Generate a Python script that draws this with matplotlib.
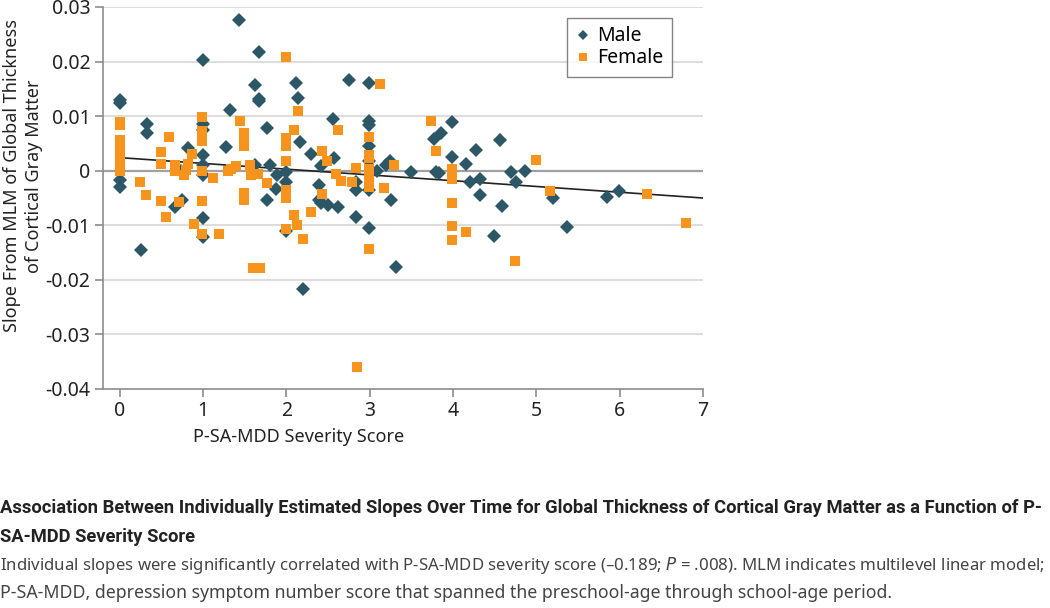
import matplotlib.pyplot as plt
import numpy as np

# Male / Female points
male_x = [0, 0, 0, 0, 0.25, 0.33, 0.33, 0.66, 0.74, 0.75, 0.82,
          1.0, 1.0, 1.0, 1.0, 1.0, 1.0, 1.0, 1.0, 1.28, 1.32, 1.43,
          1.62, 1.62, 1.67, 1.67, 1.67, 1.77, 1.77, 1.80, 1.89, 1.88,
          2.0, 2.0, 2.0, 2.12, 2.14, 2.16, 2.29, 2.42, 2.39, 2.39, 2.42,
          2.50, 2.62, 2.56, 2.57, 2.75, 2.83, 2.83, 2.83,
          2.99, 2.99, 2.99, 2.99, 2.99, 2.99, 2.99, 2.2, 3.09, 3.2, 3.24,
          3.25, 3.32, 3.5, 3.77, 3.86, 3.99, 3.99, 3.8, 3.83, 4.16, 4.28,
          4.2, 4.32, 4.32, 4.49, 4.56, 4.59, 4.7, 4.75, 4.86, 5.2, 5.37,
          5.85, 5.99]
male_y = [0.0130, 0.0125, -0.0017, -0.0029, -0.0145, 0.0086, 0.0070,
          -0.0066, 0.0000, -0.0053, 0.0042,
          0.0202, 0.0086, 0.0075, 0.0028, 0.0010, -0.0007, -0.0086, -0.0121,
          0.0043, 0.0112, 0.0276,
          0.0157, 0.0010, 0.0218, 0.0132, 0.0127, 0.0078, -0.0053, 0.0010,
          -0.0007, -0.0033,
          -0.0003, -0.0021, -0.0111, 0.0161, 0.0133, 0.0053, 0.0031, 0.0008,
          -0.0026, -0.0053, -0.0059,
          -0.0062, -0.0067, 0.0095, 0.0023, 0.0166, -0.0021, -0.0036, -0.0084,
          0.0160, 0.0092, 0.0083, 0.0045, 0.0018, -0.0035, -0.0105, -0.0217,
          -0.0001, 0.0010, 0.0017,
          -0.0054, -0.0176, -0.0003, 0.0059, 0.0069, 0.0090, 0.0026, -0.0002,
          -0.0004, 0.0013, 0.0038,
          -0.0021, -0.0015, -0.0044, -0.0119, 0.0057, -0.0065, -0.0003,
          -0.0021, 0.0000, -0.0050, -0.0104,
          -0.0048, -0.0038]

female_x = [0, 0, 0, 0, 0, 0, 0, 0, 0.24, 0.32, 0.49, 0.49, 0.49, 0.56,
            0.59, 0.66, 0.66, 0.71, 0.77, 0.79, 0.82, 0.87, 0.89,
            0.99, 0.99, 0.99, 0.99, 0.99, 0.99, 1.12, 1.19, 1.30, 1.33, 1.39,
            1.44, 1.49, 1.49, 1.49, 1.49, 1.49, 1.56, 1.58, 1.60, 1.66, 1.68,
            1.77, 1.99, 1.99, 1.99, 1.99, 1.99, 1.99, 1.99, 2.09, 2.09, 2.13,
            2.14, 2.20, 2.29, 2.43, 2.43, 2.49, 2.59, 2.62, 2.65, 2.79, 2.83,
            2.85, 2.99, 2.99, 2.99, 2.99, 2.99, 2.99, 2.99, 3.12, 3.17, 3.29,
            3.74, 3.79, 3.99, 3.99, 3.99, 3.99, 3.99, 4.16, 4.74, 5.00, 5.16,
            6.33, 6.79]
female_y = [0.0089, 0.0083, 0.0057, 0.0045, 0.0033, 0.0020, 0.0010, -0.0001,
            -0.0021, -0.0045, 0.0034, 0.0013, -0.0055, -0.0085,
            0.0061, 0.0010, 0.0000, -0.0057, -0.0007, 0.0002, 0.0012, 0.0031,
            -0.0097,
            0.0099, 0.0072, 0.0054, -0.0001, -0.0056, -0.0116, -0.0013,
            -0.0116, -0.0001, 0.0003, 0.0008,
            0.0092, 0.0069, 0.0060, 0.0046, -0.0041, -0.0053, 0.0010, -0.0007,
            -0.0179, -0.0006, -0.0179,
            -0.0023, 0.0209, 0.0060, 0.0045, 0.0018, -0.0035, -0.0050, -0.0106,
            0.0075, -0.0081, -0.0100,
            0.0109, -0.0125, -0.0076, 0.0036, -0.0042, 0.0017, -0.0006, 0.0074,
            -0.0018, -0.0021, 0.0005,
            -0.0359, 0.0062, 0.0029, 0.0023, 0.0004, -0.0013, -0.0030, -0.0144,
            0.0158, -0.0032, 0.0011,
            0.0092, 0.0036, 0.0003, -0.0015, -0.0060, -0.0102, -0.0127,
            -0.0113, -0.0166, 0.0020, -0.0037,
            -0.0042, -0.0096]

# fitted line endpoints
fit_x = [0, 7]
fit_y = [0.0024, -0.0050]

caption_title = ['Association Between Individually Estimated Slopes Over Time for '
                 'Global Thickness of Cortical Gray Matter as a Function of P-',
                 'SA-MDD Severity Score']
caption_body = ['Individual slopes were significantly correlated with P-SA-MDD '
                'severity score (\u20130.189; $\\it{P}$ = .008). MLM indicates '
                'multilevel linear model;',
                'P-SA-MDD, depression symptom number score that spanned the '
                'preschool-age through school-age period.']

male_col = '#2b5766'
female_col = '#f7941d'
grey = '#8c8c8c'

plt.rcParams['font.family'] = ['Noto Sans', 'DejaVu Sans']

fig = plt.figure(figsize=(10.5, 6.08), dpi=100)
ax = fig.add_axes([103/1050, 1-389/608, 600/1050, 382/608])

for yv in np.arange(-0.03, 0.031, 0.01):
    if abs(yv) < 1e-9:
        ax.axhline(0, color='#a0a0a0', lw=1.6, zorder=1)
    else:
        ax.axhline(yv, color='#dddddd', lw=1.4, zorder=1)

ax.plot(fit_x, fit_y, color='#222222', lw=1.2, zorder=2)
ax.plot(male_x, male_y, 'D', color=male_col, ms=7.2, mew=0, label='Male', zorder=3)
ax.plot(female_x, female_y, 's', color=female_col, ms=7, mew=0, label='Female', zorder=3)

ax.set_xlim(-0.2, 7)
ax.set_ylim(-0.04, 0.03)
ax.set_xticks(range(8))
ax.set_yticks([-0.04, -0.03, -0.02, -0.01, 0, 0.01, 0.02, 0.03])
ax.set_yticklabels(['-0.04', '-0.03', '-0.02', '-0.01', '0', '0.01', '0.02', '0.03'])
for s in ['top', 'right']:
    ax.spines[s].set_visible(False)
for s in ['left', 'bottom']:
    ax.spines[s].set_color(grey)
    ax.spines[s].set_linewidth(1.2)
ax.tick_params(direction='out', length=6, color=grey, width=1.2,
               labelsize=14, labelcolor='#222222', pad=3)

leg = ax.legend(loc='upper left', bbox_to_anchor=(0.773, 0.972), fontsize=14,
                frameon=True, fancybox=False, edgecolor='#666666',
                handletextpad=0.3, handlelength=0.8, borderpad=0.45,
                labelspacing=0.1, markerscale=0.75, borderaxespad=0)
leg.get_frame().set_linewidth(1.0)

fig.text(23/1050, 1-176/608, 'Slope From MLM of Global Thickness\nof Cortical Gray Matter',
         rotation=90, ha='center', va='center', fontsize=13, color='#222222',
         linespacing=1.3)
fig.text(299/1050, 1-437/608, 'P-SA-MDD Severity Score', ha='center', va='center',
         fontsize=13, color='#222222')

t1 = fig.text(0, 1-508/608, caption_title[0], ha='left', va='center',
              fontsize=12, fontweight='bold', family=['Roboto', 'DejaVu Sans'],
              color='#222222')
t2 = fig.text(0, 1-537/608, caption_title[1], ha='left', va='center',
              fontsize=12, fontweight='bold', family=['Roboto', 'DejaVu Sans'],
              color='#222222')
t3 = fig.text(0, 1-565/608, caption_body[0], ha='left', va='center',
              fontsize=12, color='#444444')
t4 = fig.text(0, 1-593/608, caption_body[1], ha='left', va='center',
              fontsize=12, color='#444444')

# squeeze caption lines to the widths seen in the reference
r = fig.canvas.get_renderer()
for t, w in [(t1, 1040), (t3, 1046), (t4, 888)]:
    cur = t.get_window_extent(r).width
    t.set_fontsize(t.get_fontsize() * w / cur)
t2.set_fontsize(t1.get_fontsize())

fig.savefig('out.png', dpi=100)
